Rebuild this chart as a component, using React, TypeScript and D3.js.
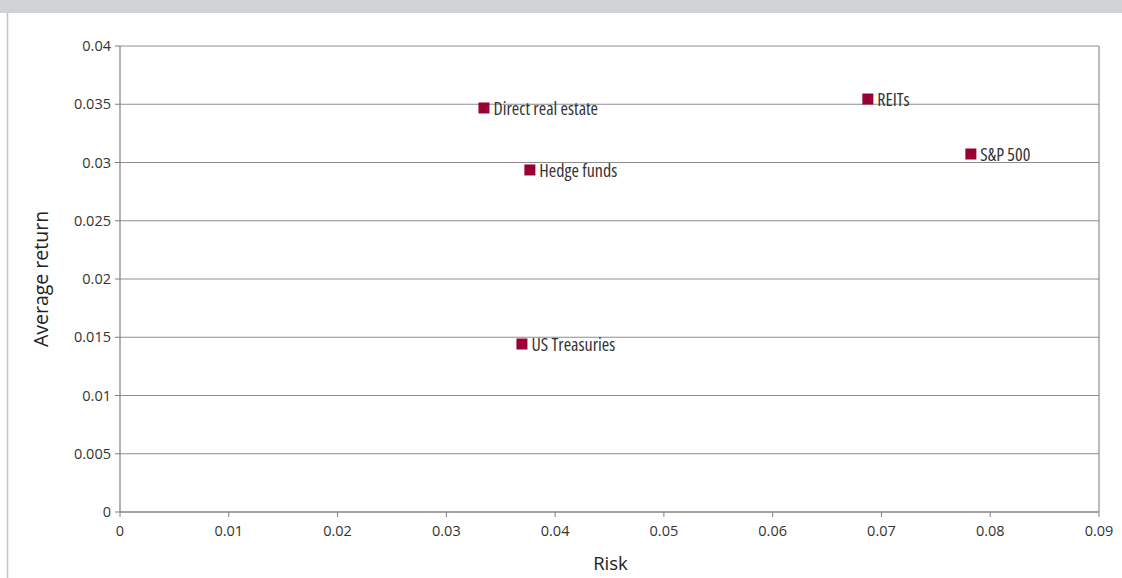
import React from "react";
import * as d3 from "d3";

const assets = ["Direct real estate", "Hedge funds", "REITs", "S&P 500", "US Treasuries"];
const riskValues = [0.03346, 0.03768, 0.06875, 0.07822, 0.03695];
const returnValues = [0.03468, 0.02936, 0.03545, 0.03073, 0.01442];
const xTicks = [0, 0.01, 0.02, 0.03, 0.04, 0.05, 0.06, 0.07, 0.08, 0.09];
const yTicks = [0, 0.005, 0.01, 0.015, 0.02, 0.025, 0.03, 0.035, 0.04];

const W = 1122;
const H = 578;
const left = 120, right = 1099, top = 46, bottom = 512;
const font = "'Open Sans', 'DejaVu Sans', sans-serif";
const markerColor = "#990033";
const gridColor = "#8e8e8e";

export default function App() {
  const x = d3.scaleLinear().domain([0, 0.09]).range([left, right]);
  const y = d3.scaleLinear().domain([0, 0.04]).range([bottom, top]);
  const fmt = (v: number) => (v === 0 ? "0" : String(+v.toFixed(3)));
  const ms = 11;
  return (
    <>
      <style>{`body{margin:0}`}</style>
      <svg width={W} height={H} style={{ display: "block" }}>
        <rect x={0} y={0} width={W} height={H} fill="#fff" />
        <rect x={0} y={0} width={W} height={13} fill="#d1d2d4" />
        <line x1={7.5} x2={7.5} y1={13} y2={H} stroke="#c4c4c4" strokeWidth={1.5} />
        {yTicks.map((t) => (
          <line key={"g" + t} x1={left} x2={right} y1={y(t)} y2={y(t)} stroke={gridColor} strokeWidth={1} />
        ))}
        <line x1={right} x2={right} y1={top} y2={bottom} stroke={gridColor} strokeWidth={1.2} />
        <line x1={left} x2={left} y1={top} y2={bottom} stroke="#808080" strokeWidth={1.2} />
        {yTicks.map((t) => (
          <g key={"y" + t}>
            <line x1={left - 5} x2={left} y1={y(t)} y2={y(t)} stroke="#808080" />
            <text x={left - 9} y={y(t)} dy="0.35em" textAnchor="end" fontFamily={font} fontSize={14.5} fill="#333">
              {fmt(t)}
            </text>
          </g>
        ))}
        <line x1={left} x2={right} y1={bottom} y2={bottom} stroke="#808080" strokeWidth={1.2} />
        {xTicks.map((t) => (
          <g key={"x" + t}>
            <line x1={x(t)} x2={x(t)} y1={bottom} y2={bottom + 5} stroke="#808080" />
            <text x={x(t)} y={bottom + 24} textAnchor="middle" fontFamily={font} fontSize={14.5} fill="#333">
              {fmt(t)}
            </text>
          </g>
        ))}
        <text x={(left + right) / 2 + 1} y={570} textAnchor="middle" fontFamily={font} fontSize={18.5} fill="#222">
          Risk
        </text>
        <text
          transform={`translate(48, ${(top + bottom) / 2}) rotate(-90)`}
          textAnchor="middle"
          fontFamily={font}
          fontSize={19.5}
          fill="#222"
        >
          Average return
        </text>
        {assets.map((a, i) => {
          const cx = x(riskValues[i]);
          const cy = y(returnValues[i]);
          return (
            <g key={a}>
              <rect x={cx - ms / 2} y={cy - ms / 2} width={ms} height={ms} fill={markerColor} />
              <text x={cx + ms / 2 + 4} y={cy + 7} fontFamily={font} fontSize={18} fill="#333"
                style={{ fontStretch: "condensed" }}>
                {a}
              </text>
            </g>
          );
        })}
      </svg>
    </>
  );
}
